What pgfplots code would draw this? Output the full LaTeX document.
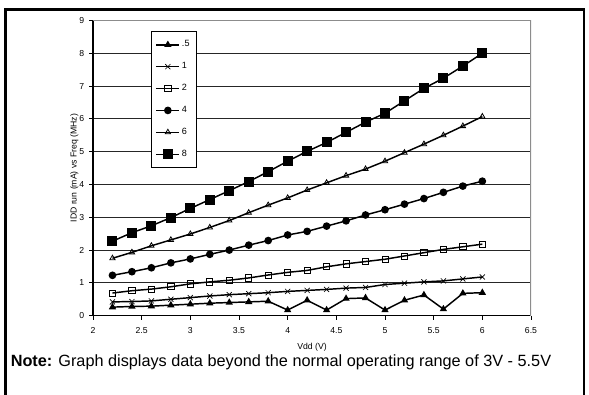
\documentclass[border=0pt]{standalone}
\usepackage{fontspec}
\setmainfont{Liberation Sans}
\usepackage{pgfplots}
\pgfplotsset{compat=1.18}

% Vdd from 2.2 V to 6 V in 0.2 V steps
\pgfplotstableread{
vdd   f05   f1    f2    f4    f6    f8
2.2   0.26  0.42  0.69  1.23  1.75  2.27
2.4   0.28  0.43  0.76  1.34  1.93  2.53
2.6   0.29  0.45  0.81  1.46  2.13  2.74
2.8   0.32  0.50  0.88  1.61  2.31  2.99
3.0   0.35  0.55  0.97  1.73  2.49  3.27
3.2   0.38  0.60  1.03  1.87  2.69  3.54
3.4   0.40  0.64  1.08  2.00  2.90  3.81
3.6   0.42  0.67  1.15  2.15  3.14  4.09
3.8   0.44  0.70  1.24  2.29  3.37  4.39
4.0   0.17  0.74  1.32  2.46  3.59  4.71
4.2   0.47  0.77  1.38  2.57  3.83  5.01
4.4   0.17  0.80  1.49  2.73  4.05  5.28
4.6   0.52  0.84  1.58  2.89  4.27  5.59
4.8   0.54  0.86  1.65  3.07  4.47  5.90
5.0   0.17  0.95  1.72  3.23  4.71  6.17
5.2   0.47  0.99  1.82  3.40  4.97  6.55
5.4   0.63  1.03  1.92  3.57  5.23  6.93
5.6   0.20  1.06  2.02  3.76  5.50  7.24
5.8   0.68  1.12  2.10  3.95  5.78  7.61
6.0   0.70  1.18  2.18  4.10  6.07  8.00
}\idddata

\begin{document}
\begin{tikzpicture}
\useasboundingbox (0,0) rectangle (441.75pt,296.25pt);
\clip (0,0) rectangle (441.75pt,296.25pt);
% outer figure frame (bottom lies below the cut)
\draw[line width=1.9pt] (4.2pt,-10pt) -- (4.2pt,289.2pt) -- (438pt,289.2pt) -- (438pt,-10pt);

\begin{axis}[
  at={(69.75pt,59.5pt)}, anchor=south west,
  scale only axis, width=328.5pt, height=221.4pt,
  xmin=2, xmax=6.5, ymin=0, ymax=9,
  xtick={2,2.5,...,6.5}, ytick={0,1,...,9},
  axis lines*=left,
  axis line style={black, line width=0.8pt},
  tick align=outside, major tick length=3pt,
  tick style={black, line width=0.6pt},
  ymajorgrids, major grid style={black!85, line width=0.6pt},
  /pgf/number format/assume math mode=true,
  ticklabel style={font=\fontsize{6.5}{7}\selectfont},
  xticklabel style={yshift=-2pt},
  xlabel={Vdd (V)}, ylabel={IDD run (mA) vs Freq (MHz)},
  label style={font=\fontsize{6.5}{7}\selectfont},
  xlabel style={yshift=-1pt}, ylabel style={yshift=-6pt},
  legend cell align=left,
  legend image code/.code={
    \draw[mark repeat=2,mark phase=2,#1] plot coordinates {(0cm,0cm) (0.3cm,0cm) (0.6cm,0cm)};},
  legend style={at={(0.132,0.964)}, anchor=north west, draw=black,
    font=\fontsize{6.8}{7}\selectfont, row sep=6.2pt,
    inner xsep=3.5pt, inner ysep=5pt,
    nodes={inner xsep=1.5pt}},
  every axis plot/.append style={black, line width=1.1pt},
]
\addplot[mark=triangle*, mark size=2.1pt, mark options={solid}] table[x=vdd,y=f05]{\idddata};
\addplot[mark=x, mark size=2.7pt, mark options={solid, line width=0.5pt}] table[x=vdd,y=f1]{\idddata};
\addplot[mark=square, mark size=2.3pt, mark options={solid, fill=white, line width=0.6pt}] table[x=vdd,y=f2]{\idddata};
\addplot[mark=*, mark size=2.3pt] table[x=vdd,y=f4]{\idddata};
\addplot[mark=triangle, mark size=2.3pt, mark options={solid, fill=white, line width=0.6pt}] table[x=vdd,y=f6]{\idddata};
\addplot[mark=square*, mark size=3.2pt] table[x=vdd,y=f8]{\idddata};
\legend{.5,1,2,4,6,8}
\draw[black!45, line width=0.8pt] (rel axis cs:0,1) -- (rel axis cs:1,1) -- (rel axis cs:1,0);
\end{axis}

\node[anchor=base west, inner sep=0pt, font=\fontsize{12.2}{14}\selectfont] at (7.9pt,21.5pt)
  {\textbf{Note:} Graph displays data beyond the normal operating range of 3V - 5.5V};
\end{tikzpicture}
\end{document}
